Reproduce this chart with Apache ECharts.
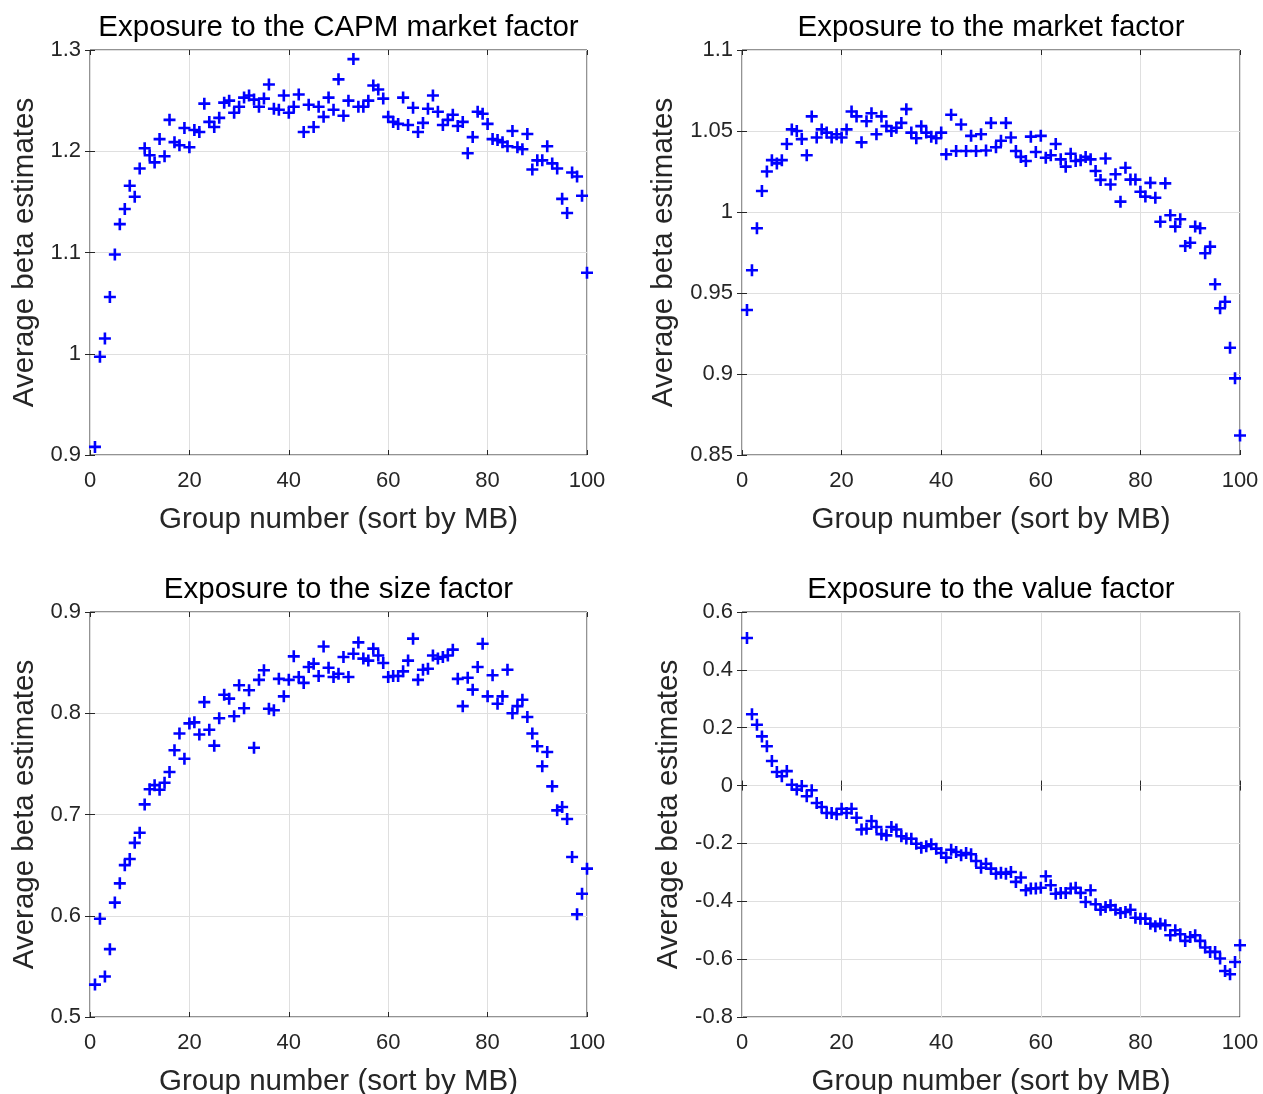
<!DOCTYPE html>
<html>
<head>
<meta charset="utf-8">
<script src="https://cdn.jsdelivr.net/npm/echarts@6/dist/echarts.min.js"></script>
<style>
  html, body { margin: 0; padding: 0; background: #fff; }
  #chart { width: 1263px; height: 1094px; }
</style>
</head>
<body>
<div id="chart"></div>
<script>
// group numbers (portfolios sorted by MB)
const groups = [1, 2, 3, 4, 5, 6, 7, 8, 9, 10, 11, 12, 13, 14, 15, 16, 17, 18, 19, 20,
  21, 22, 23, 24, 25, 26, 27, 28, 29, 30, 31, 32, 33, 34, 35, 36, 37, 38, 39, 40,
  41, 42, 43, 44, 45, 46, 47, 48, 49, 50, 51, 52, 53, 54, 55, 56, 57, 58, 59, 60,
  61, 62, 63, 64, 65, 66, 67, 68, 69, 70, 71, 72, 73, 74, 75, 76, 77, 78, 79, 80,
  81, 82, 83, 84, 85, 86, 87, 88, 89, 90, 91, 92, 93, 94, 95, 96, 97, 98, 99, 100];

// average beta on the CAPM market factor
const capmBeta = [0.908, 0.997, 1.015, 1.056, 1.098, 1.128, 1.143, 1.166, 1.155, 1.183,
  1.203, 1.196, 1.189, 1.212, 1.195, 1.231, 1.209, 1.206, 1.223, 1.204,
  1.221, 1.219, 1.247, 1.229, 1.224, 1.233, 1.248, 1.250, 1.238, 1.244,
  1.253, 1.255, 1.251, 1.244, 1.252, 1.266, 1.242, 1.241, 1.255, 1.238,
  1.244, 1.256, 1.219, 1.246, 1.224, 1.244, 1.234, 1.253, 1.241, 1.271,
  1.235, 1.250, 1.291, 1.244, 1.244, 1.250, 1.265, 1.261, 1.252, 1.234,
  1.229, 1.227, 1.253, 1.226, 1.243, 1.219, 1.228, 1.242, 1.255, 1.239,
  1.226, 1.231, 1.236, 1.225, 1.229, 1.198, 1.214, 1.239, 1.237, 1.227,
  1.212, 1.211, 1.209, 1.205, 1.220, 1.204, 1.202, 1.217, 1.182, 1.191,
  1.191, 1.205, 1.188, 1.183, 1.153, 1.139, 1.179, 1.175, 1.156, 1.080];

// average beta on the 3-factor market factor
const marketBeta = [0.9395, 0.964, 0.990, 1.013, 1.025, 1.032, 1.030, 1.032, 1.042, 1.051,
  1.050, 1.045, 1.035, 1.059, 1.046, 1.051, 1.049, 1.046, 1.048, 1.046,
  1.051, 1.062, 1.059, 1.043, 1.056, 1.061, 1.048, 1.059, 1.053, 1.050,
  1.052, 1.055, 1.0635, 1.049, 1.0455, 1.053, 1.049, 1.0465, 1.0455, 1.049,
  1.0356, 1.060, 1.0377, 1.054, 1.0377, 1.047, 1.0377, 1.048, 1.038, 1.055,
  1.040, 1.044, 1.055, 1.046, 1.0377, 1.034, 1.0315, 1.0465, 1.037, 1.047,
  1.0335, 1.035, 1.042, 1.0325, 1.028, 1.036, 1.0315, 1.032, 1.034, 1.0325,
  1.0253, 1.0198, 1.033, 1.017, 1.0233, 1.0064, 1.0273, 1.020, 1.020, 1.0125,
  1.0095, 1.018, 1.0088, 0.994, 1.0177, 0.998, 0.991, 0.9955, 0.979, 0.981,
  0.991, 0.990, 0.9745, 0.9786, 0.9554, 0.9406, 0.9446, 0.9162, 0.8973, 0.862];

// average beta on the size factor
const sizeBeta = [0.532, 0.597, 0.540, 0.567, 0.613, 0.632, 0.650, 0.656, 0.672, 0.682,
  0.710, 0.725, 0.729, 0.7245, 0.7314, 0.742, 0.7634, 0.780, 0.755, 0.790,
  0.791, 0.779, 0.811, 0.7837, 0.768, 0.795, 0.8183, 0.8144, 0.797, 0.8276,
  0.805, 0.8227, 0.766, 0.833, 0.8424, 0.8045, 0.803, 0.834, 0.8167, 0.833,
  0.8562, 0.8358, 0.830, 0.8457, 0.849, 0.8368, 0.866, 0.845, 0.8358, 0.839,
  0.8556, 0.8358, 0.8588, 0.870, 0.854, 0.852, 0.8638, 0.857, 0.8496, 0.8358,
  0.8368, 0.8368, 0.8414, 0.852, 0.8737, 0.833, 0.843, 0.844, 0.857, 0.854,
  0.8556, 0.857, 0.8628, 0.834, 0.807, 0.835, 0.8233, 0.8457, 0.8687, 0.8167,
  0.8375, 0.8094, 0.8167, 0.843, 0.800, 0.807, 0.8134, 0.7963, 0.780, 0.7674,
  0.7476, 0.7617, 0.7278, 0.7041, 0.7074, 0.6956, 0.658, 0.6014, 0.6218, 0.6465];

// average beta on the value factor
const valueBeta = [0.510, 0.2464, 0.2105, 0.170, 0.1357, 0.085, 0.047, 0.032, 0.050, 0.003,
  -0.014, -0.0015, -0.037, -0.016, -0.060, -0.074, -0.095, -0.095, -0.099, -0.080,
  -0.095, -0.080, -0.111, -0.152, -0.149, -0.1224, -0.143, -0.168, -0.172, -0.143,
  -0.152, -0.175, -0.183, -0.184, -0.201, -0.215, -0.210, -0.203, -0.218, -0.233,
  -0.249, -0.2216, -0.2296, -0.241, -0.233, -0.2375, -0.2607, -0.284, -0.270, -0.287,
  -0.3046, -0.301, -0.3046, -0.2987, -0.333, -0.318, -0.362, -0.356, -0.356, -0.353,
  -0.3137, -0.3447, -0.3737, -0.371, -0.371, -0.356, -0.353, -0.371, -0.4024, -0.362,
  -0.4104, -0.429, -0.420, -0.414, -0.429, -0.4405, -0.437, -0.429, -0.4567, -0.460,
  -0.460, -0.4775, -0.4865, -0.4775, -0.483, -0.5175, -0.500, -0.514, -0.537, -0.5234,
  -0.5175, -0.537, -0.560, -0.575, -0.575, -0.598, -0.641, -0.652, -0.610, -0.552];

const panelTitles = ['Exposure to the CAPM market factor', 'Exposure to the market factor',
  'Exposure to the size factor', 'Exposure to the value factor'];
const xLabel = 'Group number (sort by MB)';
const yLabel = 'Average beta estimates';

// axis ranges: [min, max, step]
const xTicks = [0, 100, 20];
const yRanges = [[0.9, 1.3, 0.1], [0.85, 1.1, 0.05], [0.5, 0.9, 0.1], [-0.8, 0.6, 0.2]];

const FONT = '"Liberation Sans", Arial, Helvetica, sans-serif';
const AXIS_COLOR = '#262626';
const GRID_COLOR = '#dfdfdf';
// MATLAB style '+' marker
const PLUS = 'path://M4.7,0 L7.3,0 L7.3,4.7 L12,4.7 L12,7.3 L7.3,7.3 L7.3,12 L4.7,12 L4.7,7.3 L0,7.3 L0,4.7 L4.7,4.7 Z';

const layout = [
  { left: 90, top: 50, width: 497, yNameGap: 50 },
  { left: 742, top: 50, width: 498, yNameGap: 63 },
  { left: 90, top: 612, width: 497, yNameGap: 50 },
  { left: 742, top: 612, width: 498, yNameGap: 58 }
];
const seriesData = [capmBeta, marketBeta, sizeBeta, valueBeta];

let chart = echarts.init(document.getElementById('chart'));

const option = {
  animation: false,
  backgroundColor: '#fff',
  title: [], grid: [], xAxis: [], yAxis: [], series: []
};

layout.forEach((p, i) => {
  const [yMin, yMax, yStep] = yRanges[i];
  option.grid.push({
    left: p.left, top: p.top, width: p.width, height: 405,
    outerBoundsMode: 'none', containLabel: false,
    show: true, borderColor: AXIS_COLOR, borderWidth: 1, backgroundColor: '#fff'
  });
  option.title.push({
    text: panelTitles[i],
    left: p.left + p.width / 2, top: p.top - 37, textAlign: 'center', padding: 0,
    textStyle: { fontFamily: FONT, fontSize: 29.5, fontWeight: 'normal', color: '#000' }
  });
  const tick = { inside: true, length: 5, lineStyle: { color: AXIS_COLOR } };
  // bottom + top x axes
  option.xAxis.push({
    gridIndex: i, type: 'value', min: xTicks[0], max: xTicks[1], interval: xTicks[2],
    position: 'bottom', axisLine: { show: false }, axisTick: tick,
    axisLabel: { margin: 15, fontSize: 22, color: AXIS_COLOR, fontFamily: FONT },
    splitLine: { show: true, lineStyle: { color: GRID_COLOR, width: 1 } },
    name: xLabel, nameLocation: 'middle', nameGap: 50,
    nameTextStyle: { fontFamily: FONT, fontSize: 29.5, color: AXIS_COLOR }
  });
  option.xAxis.push({
    gridIndex: i, type: 'value', min: xTicks[0], max: xTicks[1], interval: xTicks[2],
    position: 'top', axisLine: { show: false }, axisTick: tick,
    axisLabel: { show: false }, splitLine: { show: false }
  });
  // left + right y axes
  option.yAxis.push({
    gridIndex: i, type: 'value', min: yMin, max: yMax, interval: yStep,
    position: 'left', axisLine: { show: false }, axisTick: tick,
    axisLabel: {
      margin: 9, fontSize: 22, color: AXIS_COLOR, fontFamily: FONT,
      formatter: v => String(parseFloat(v.toFixed(2)))
    },
    splitLine: { show: true, lineStyle: { color: GRID_COLOR, width: 1 } },
    name: yLabel, nameLocation: 'middle', nameRotate: 90, nameGap: p.yNameGap,
    nameTextStyle: { fontFamily: FONT, fontSize: 29.5, color: AXIS_COLOR }
  });
  option.yAxis.push({
    gridIndex: i, type: 'value', min: yMin, max: yMax, interval: yStep,
    position: 'right', axisLine: { show: false }, axisTick: tick,
    axisLabel: { show: false }, splitLine: { show: false }
  });
  option.series.push({
    type: 'scatter',
    xAxisIndex: i * 2, yAxisIndex: i * 2,
    symbol: PLUS, symbolSize: 12,
    itemStyle: { color: '#0000ff', opacity: 1 },
    data: groups.map((g, k) => [g, seriesData[i][k]])
  });
});

chart.setOption(option);
</script>
</body>
</html>
